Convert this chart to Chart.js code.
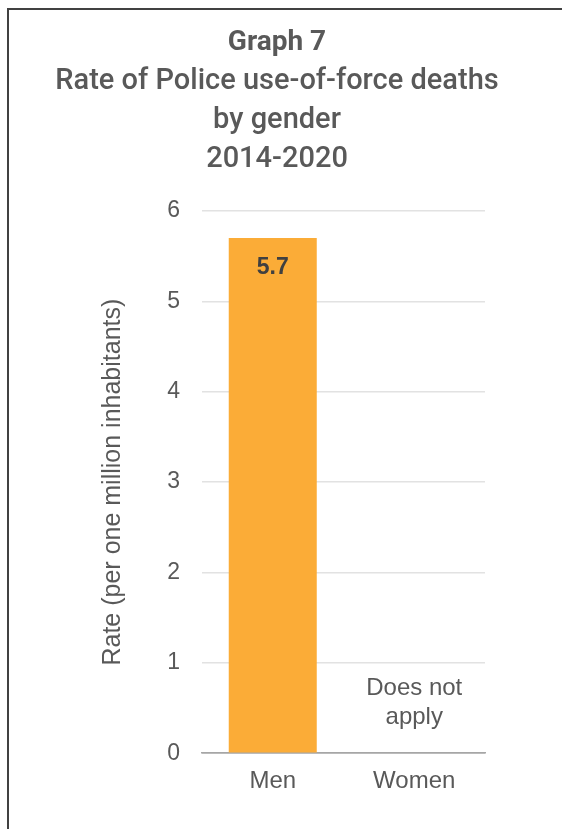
<!DOCTYPE html>
<html lang="en">
<head>
    <meta charset="UTF-8">
    <title>Graph 7</title>
    <style>
        body, html {
            margin: 0;
            padding: 0;
            background: #fff;
            overflow: hidden;
        }

        #wrap {
            position: relative;
            width: 562px;
            height: 829px;
        }

        #frame {
            position: absolute;
            left: 7px;
            top: 8px;
            width: 600px;
            height: 900px;
            border-top: 2px solid #414141;
            border-left: 2px solid #414141;
            pointer-events: none;
        }
    </style>
</head>
<body>

<div id="wrap">
    <canvas id="genderChart" width="562" height="829"></canvas>
    <div id="frame"></div>
</div>

<script src="https://cdn.jsdelivr.net/npm/chart.js"></script>
<script>
    // data
    const categories = ['Men', 'Women'];
    const rates = [5.7, null];
    const valueLabels = ['5.7', null];
    const notes = [null, ['Does not', 'apply']];
    const yTicks = [0, 1, 2, 3, 4, 5, 6];

    const titleText = 'Graph 7';
    const subtitleLines = ['Rate of Police use-of-force deaths', 'by gender', '2014-2020'];
    const yTitle = 'Rate (per one million inhabitants)';

    const textGrey = '#595959';
    const axisFont = '"Liberation Sans", Arial, sans-serif';

    // value inside the bar and the note for the empty category
    const barText = {
        id: 'barText',
        afterDatasetsDraw(chart) {
            const ctx = chart.ctx;
            const meta = chart.getDatasetMeta(0);
            const x = chart.scales.x;
            const y = chart.scales.y;
            ctx.save();
            ctx.textAlign = 'center';
            ctx.textBaseline = 'middle';

            valueLabels.forEach((label, i) => {
                if (!label) return;
                const bar = meta.data[i];
                ctx.font = 'bold 23px ' + axisFont;
                ctx.fillStyle = '#404040';
                ctx.fillText(label, bar.x, bar.y + 30);
            });

            notes.forEach((lines, i) => {
                if (!lines) return;
                const cx = x.getPixelForTick(i);
                const base = y.getPixelForValue(0);
                ctx.font = '24px ' + axisFont;
                ctx.fillStyle = textGrey;
                lines.forEach((line, k) => {
                    ctx.fillText(line, cx, base - 65 + k * 29);
                });
            });
            ctx.restore();
        }
    };

    const ctx = document.getElementById('genderChart').getContext('2d');
    new Chart(ctx, {
        type: 'bar',
        data: {
            labels: categories,
            datasets: [{
                data: rates,
                backgroundColor: '#FBAC37',
                borderWidth: 0,
                categoryPercentage: 1,
                barPercentage: 0.622
            }]
        },
        options: {
            responsive: false,
            animation: false,
            layout: {
                padding: { left: 0, right: 8, top: 0, bottom: 19 }
            },
            plugins: {
                legend: { display: false },
                tooltip: { enabled: false },
                title: {
                    display: true,
                    text: titleText,
                    color: textGrey,
                    font: { family: 'Roboto', size: 28, weight: 'bold', lineHeight: 1.2 },
                    padding: { top: 26, bottom: 3 }
                },
                subtitle: {
                    display: true,
                    text: subtitleLines,
                    color: textGrey,
                    font: { family: 'Roboto', size: 29, weight: 500, lineHeight: '39px' },
                    padding: { top: 0, bottom: 31.4 }
                }
            },
            scales: {
                x: {
                    grid: { display: false, drawTicks: false },
                    border: { display: true, color: '#a6a6a6', width: 1.5 },
                    ticks: {
                        color: textGrey,
                        padding: 14,
                        font: { family: axisFont, size: 24 }
                    }
                },
                y: {
                    min: 0,
                    max: 6,
                    afterFit: s => { s.width = 202; },
                    afterBuildTicks: s => { s.ticks = yTicks.map(v => ({ value: v })); },
                    grid: {
                        drawTicks: false,
                        color: c => c.tick && c.tick.value === 0 ? '#a6a6a6' : '#e2e2e2',
                        lineWidth: 1.5
                    },
                    border: { display: false },
                    ticks: {
                        color: textGrey,
                        padding: 22,
                        font: { family: axisFont, size: 23 }
                    },
                    title: {
                        display: true,
                        text: yTitle,
                        color: textGrey,
                        font: { family: axisFont, size: 25, lineHeight: 1.2 },
                        padding: { top: 98, bottom: 0 }
                    }
                },
                // empty right-hand strip, keeps the title centred on the page
                spacer: {
                    type: 'linear',
                    position: 'right',
                    display: true,
                    afterFit: s => { s.width = 69; },
                    grid: { display: false, drawTicks: false },
                    border: { display: false },
                    ticks: { display: false }
                }
            }
        },
        plugins: [barText]
    });
</script>

</body>
</html>
